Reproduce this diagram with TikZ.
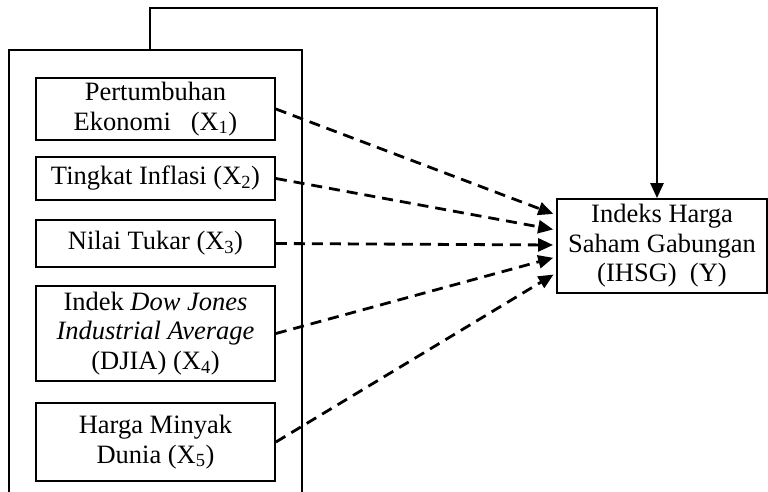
\documentclass[tikz,border=0pt]{standalone}
\usepackage{fontspec}
\setmainfont{Liberation Serif}
\usetikzlibrary{arrows.meta}
\def\dasharrow{\draw[line width=2.8pt,dash pattern=on 11pt off 7pt,-{Triangle[length=15pt,width=13pt]},shorten >=3pt]}

\begin{document}
\begin{tikzpicture}[x=1pt,y=-1pt,
    varbox/.style={draw,line width=1.8pt,minimum width=239pt,align=center,inner sep=0pt,
                   font=\fontsize{26.5}{29.5}\selectfont},
    ybox/.style={varbox,minimum width=210pt,minimum height=94pt}]
    \useasboundingbox (0,0) rectangle (768,491);
    \clip (0,0) rectangle (768,491);
    \node[draw,line width=1.8pt,minimum width=293pt,minimum height=480pt] (outer) at (155.5,290) {};
    \node[varbox,minimum height=62pt] (x1) at (155.5,109) {Pertumbuhan\\Ekonomi \ \ (X\textsubscript{1})};
    \node[varbox,minimum height=43pt] (x2) at (155.5,178.5) {Tingkat Inflasi (X\textsubscript{2})};
    \node[varbox,minimum height=47pt] (x3) at (155.5,243.5) {Nilai Tukar (X\textsubscript{3})};
    \node[varbox,minimum height=95pt] (x4) at (155.5,333.5) {Indek \textit{Dow Jones}\\\textit{Industrial Average}\\(DJIA) (X\textsubscript{4})};
    \node[varbox,minimum height=78pt] (x5) at (155.5,442) {Harga Minyak\\Dunia (X\textsubscript{5})};
    \node[ybox] (ihsg) at (662,246) {Indeks Harga\\Saham Gabungan\\(IHSG) \ (Y)};
    \coordinate (top) at (0,8);
    \draw[line width=2.4pt,-{Triangle[length=15pt,width=13pt]}]
        ([xshift=-5.5pt]outer.north) -- ([xshift=-5.5pt]outer.north |- top) -| ([xshift=-5pt]ihsg.north);
    \dasharrow (x1.east) -- ([yshift=31pt]ihsg.west);
    \dasharrow (x2.east) -- ([yshift=16pt]ihsg.west);
    \dasharrow (x3.east) -- ([yshift=1pt]ihsg.west);
    \dasharrow (x4.east) -- ([yshift=-11pt]ihsg.west);
    \dasharrow (x5.east) -- ([yshift=-27pt]ihsg.west);
\end{tikzpicture}
\end{document}
